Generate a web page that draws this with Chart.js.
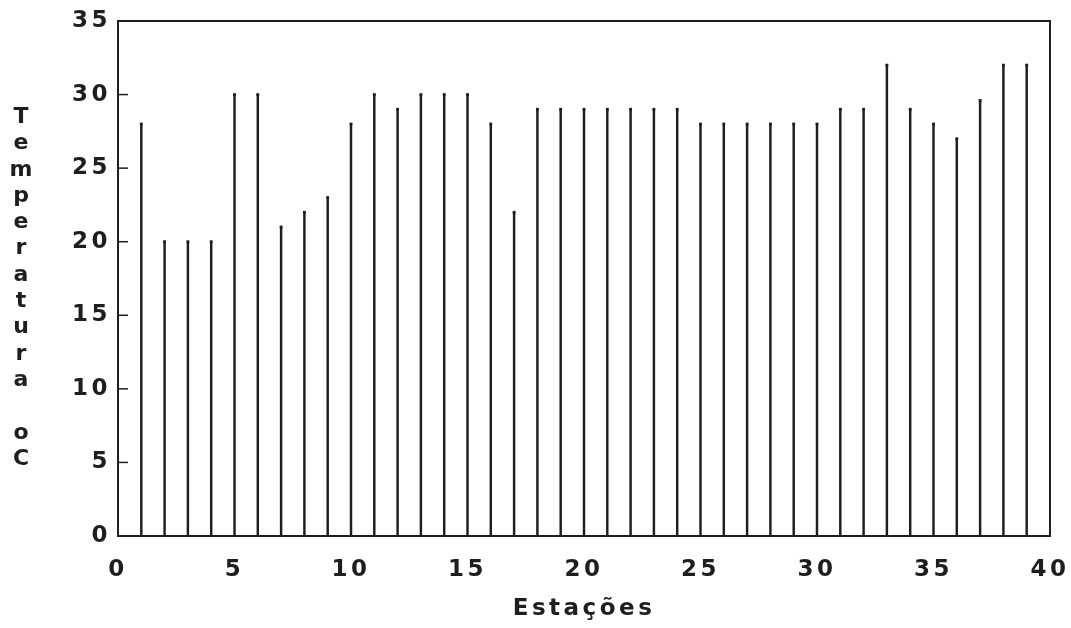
<!DOCTYPE html>
<html>
<head>
<meta charset="utf-8">
<script src="https://cdn.jsdelivr.net/npm/chart.js@4/dist/chart.umd.min.js"></script>
<style>
  html, body { margin: 0; padding: 0; background: #fff; }
  #wrap { position: relative; width: 1071px; height: 628px; }
  #ytitle {
    position: absolute; left: 6px; top: 103px; width: 30px;
    font-family: "DejaVu Sans", sans-serif; font-weight: bold;
    font-size: 22px; line-height: 26.3px; color: #1e1e1e; text-align: center;
    white-space: pre-line;
  }
</style>
</head>
<body>
<div id="wrap">
  <canvas id="c" width="1071" height="628"></canvas>
  <div id="ytitle"></div>
</div>
<script>
const stations = [1,2,3,4,5,6,7,8,9,10,11,12,13,14,15,16,17,18,19,20,21,22,23,24,25,26,27,28,29,30,31,32,33,34,35,36,37,38,39];
const temperatures = [28,20,20,20,30,30,21,22,23,28,30,29,30,30,30,28,22,29,29,29,29,29,29,29,28,28,28,28,28,28,29,29,32,29,28,27,29.6,32,32];
const xTitle = "Estações";
const yTitle = "Temperatura oC";
const xMin = 0, xMax = 40, xStep = 5;
const yMin = 0, yMax = 35, yStep = 5;

document.getElementById('ytitle').textContent = yTitle.split('').join('\n');

const points = stations.map((s, i) => ({ x: s, y: temperatures[i] }));
const ink = '#1e1e1e';
const LS = '3.5px';
const tickFont = { family: '"DejaVu Sans", sans-serif', size: 23, weight: 'bold' };

const spacingPlugin = {
  id: 'spacing',
  beforeInit(chart) { chart.ctx.letterSpacing = LS; },
  beforeUpdate(chart) { chart.ctx.letterSpacing = LS; },
  beforeLayout(chart) { chart.ctx.letterSpacing = LS; },
  beforeDraw(chart) { chart.ctx.letterSpacing = LS; }
};

const framePlugin = {
  id: 'frame',
  afterDraw(chart) {
    const { ctx, chartArea: a, scales } = chart;
    ctx.save();
    ctx.strokeStyle = ink;
    ctx.lineWidth = 2;
    ctx.strokeRect(a.left, a.top, a.right - a.left, a.bottom - a.top);
    ctx.lineWidth = 1.5;
    scales.y.ticks.forEach(t => {
      const py = scales.y.getPixelForValue(t.value);
      ctx.beginPath();
      ctx.moveTo(a.left, py);
      ctx.lineTo(a.left + 10, py);
      ctx.stroke();
    });
    ctx.restore();
  }
};

new Chart(document.getElementById('c'), {
  type: 'bar',
  data: {
    datasets: [
      {
        type: 'scatter',
        data: points,
        pointStyle: 'rect',
        pointRadius: 2,
        backgroundColor: ink,
        borderColor: ink,
        borderWidth: 0,
        order: 0
      },
      {
        type: 'bar',
        data: points,
        backgroundColor: ink,
        borderWidth: 0,
        barThickness: 1.8,
        order: 1
      }
    ]
  },
  options: {
    responsive: false,
    animation: false,
    layout: { padding: { left: 0, top: 21, right: 21, bottom: 0 } },
    plugins: { legend: { display: false }, tooltip: { enabled: false } },
    scales: {
      x: {
        type: 'linear',
        min: xMin, max: xMax,
        offset: false,
        ticks: { stepSize: xStep, color: ink, font: tickFont, padding: 20, maxRotation: 0 },
        grid: { display: false, drawTicks: false },
        border: { display: false },
        title: { display: true, text: xTitle, color: ink, font: tickFont, padding: { top: 0, bottom: 5 } },
        afterFit(s) { s.height = 92; s.paddingLeft = 0; s.paddingRight = 0; }
      },
      y: {
        min: yMin, max: yMax,
        ticks: { stepSize: yStep, color: ink, font: tickFont, padding: 7 },
        grid: { display: false, drawTicks: false },
        border: { display: false },
        afterFit(s) { s.width = 118; s.paddingTop = 0; s.paddingBottom = 0; }
      }
    }
  },
  plugins: [spacingPlugin, framePlugin]
});
</script>
</body>
</html>
